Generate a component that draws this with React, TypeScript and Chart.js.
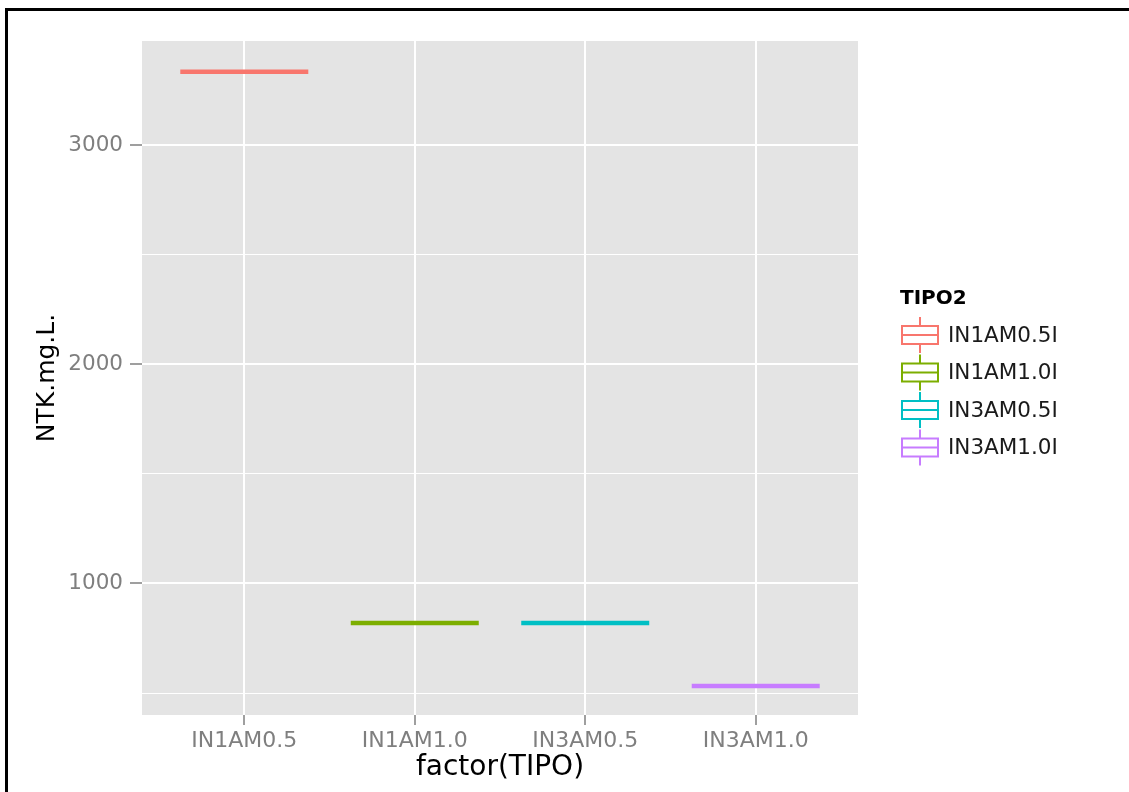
import React, { useEffect, useRef } from 'react';
import { Chart, registerables } from 'chart.js';

Chart.register(...registerables);

const categories = ['IN1AM0.5', 'IN1AM1.0', 'IN3AM0.5', 'IN3AM1.0'];
const legendLabels = ['IN1AM0.5I', 'IN1AM1.0I', 'IN3AM0.5I', 'IN3AM1.0I'];
const medianValues = [3335, 820, 820, 532];
const seriesColors = ['#F8766D', '#7CAE00', '#00BFC4', '#C77CFF'];
const yTickValues = [500, 1000, 1500, 2000, 2500, 3000];
const yMajorTicks = [1000, 2000, 3000];
const legendTitle = 'TIPO2';
const xTitle = 'factor(TIPO)';
const yTitle = 'NTK.mg.L.';

const FONT = "'DejaVu Sans', 'Liberation Sans', sans-serif";

const panelBg = {
  id: 'panelBg',
  beforeDraw(chart: any) {
    const { ctx, chartArea } = chart;
    ctx.save();
    ctx.fillStyle = '#E4E4E4';
    ctx.fillRect(chartArea.left, chartArea.top, chartArea.right - chartArea.left, chartArea.bottom - chartArea.top);
    ctx.restore();
  },
};

const boxLegend = {
  id: 'boxLegend',
  afterDraw(chart: any) {
    const { ctx } = chart;
    ctx.save();
    ctx.fillStyle = '#000';
    ctx.font = `bold 20px ${FONT}`;
    ctx.textAlign = 'left';
    ctx.textBaseline = 'middle';
    ctx.fillText(legendTitle, 900, 299);
    legendLabels.forEach((lab, i) => {
      const cy = 335 + i * 37.5;
      const x0 = 902, x1 = 938, cx = 920;
      ctx.strokeStyle = seriesColors[i];
      ctx.lineWidth = 2;
      ctx.beginPath();
      ctx.moveTo(cx, cy - 18);
      ctx.lineTo(cx, cy - 9);
      ctx.moveTo(cx, cy + 9);
      ctx.lineTo(cx, cy + 18);
      ctx.stroke();
      ctx.fillStyle = '#fff';
      ctx.fillRect(x0, cy - 9, x1 - x0, 18);
      ctx.strokeRect(x0, cy - 9, x1 - x0, 18);
      ctx.beginPath();
      ctx.moveTo(x0, cy);
      ctx.lineTo(x1, cy);
      ctx.stroke();
      ctx.fillStyle = '#1a1a1a';
      ctx.font = `21.5px ${FONT}`;
      ctx.fillText(lab, 948, cy + 1);
    });
    ctx.restore();
  },
};

export default function App() {
  const ref = useRef<HTMLCanvasElement>(null);
  useEffect(() => {
    if (!ref.current) return;
    const chart = new Chart(ref.current, {
      type: 'scatter',
      data: {
        datasets: categories.map((c, i) => ({
          label: legendLabels[i],
          data: [{ x: i, y: medianValues[i] }],
          pointStyle: 'line',
          pointRadius: 64,
          pointHoverRadius: 64,
          pointBorderWidth: 4.5,
          pointBorderColor: seriesColors[i],
          pointBackgroundColor: seriesColors[i],
          showLine: false,
          clip: false as any,
        })),
      },
      options: {
        animation: false,
        responsive: false,
        events: [],
        layout: { autoPadding: false, padding: { left: 0, top: 41, right: 271, bottom: 0 } },
        plugins: { legend: { display: false }, tooltip: { enabled: false } },
        scales: {
          x: {
            type: 'linear',
            min: -0.6,
            max: 3.6,
            afterBuildTicks: (s: any) => {
              s.ticks = categories.map((_, i) => ({ value: i }));
            },
            afterFit: (s: any) => {
              s.height = 77;
            },
            ticks: {
              callback: (v: any) => categories[v] ?? '',
              color: '#7f7f7f',
              font: { family: FONT, size: 22 },
              padding: 3,
              maxRotation: 0,
              autoSkip: false,
            },
            grid: {
              color: '#ffffff',
              lineWidth: 2,
              drawTicks: true,
              tickLength: 10,
              tickColor: '#7f7f7f',
              tickWidth: 1.5,
            },
            border: { display: false },
            title: {
              display: true,
              text: xTitle,
              color: '#000',
              font: { family: FONT, size: 28 },
              padding: { top: 0, bottom: 7 },
            },
          },
          y: {
            type: 'linear',
            min: 400,
            max: 3475,
            afterBuildTicks: (s: any) => {
              s.ticks = yTickValues.map((v) => ({ value: v }));
            },
            afterFit: (s: any) => {
              s.width = 142;
            },
            ticks: {
              callback: (v: any) => (yMajorTicks.includes(v) ? String(v) : ''),
              color: '#7f7f7f',
              font: { family: FONT, size: 21.5 },
              padding: 7,
              autoSkip: false,
            },
            grid: {
              color: '#ffffff',
              lineWidth: (ctx: any) => (yMajorTicks.includes(ctx.tick?.value) ? 2 : 1),
              drawTicks: true,
              tickLength: 12,
              tickColor: (ctx: any) => (yMajorTicks.includes(ctx.tick?.value) ? '#7f7f7f' : 'rgba(0,0,0,0)'),
              tickWidth: 1.5,
            },
            border: { display: false },
            title: {
              display: true,
              text: yTitle,
              color: '#000',
              font: { family: FONT, size: 25 },
              padding: { top: 32, bottom: 0 },
            },
          },
        },
      },
      plugins: [panelBg, boxLegend],
    } as any);
    return () => chart.destroy();
  }, []);

  return (
    <div style={{ position: 'absolute', left: 0, top: 0, width: 1129, height: 792, overflow: 'hidden', background: '#fff' }}>
      <canvas ref={ref} width={1129} height={792} style={{ width: 1129, height: 792, display: 'block' }} />
      <div
        style={{
          position: 'absolute',
          left: 5,
          top: 8,
          width: 1200,
          height: 900,
          borderTop: '3px solid #000',
          borderLeft: '3px solid #000',
          pointerEvents: 'none',
        }}
      />
    </div>
  );
}
